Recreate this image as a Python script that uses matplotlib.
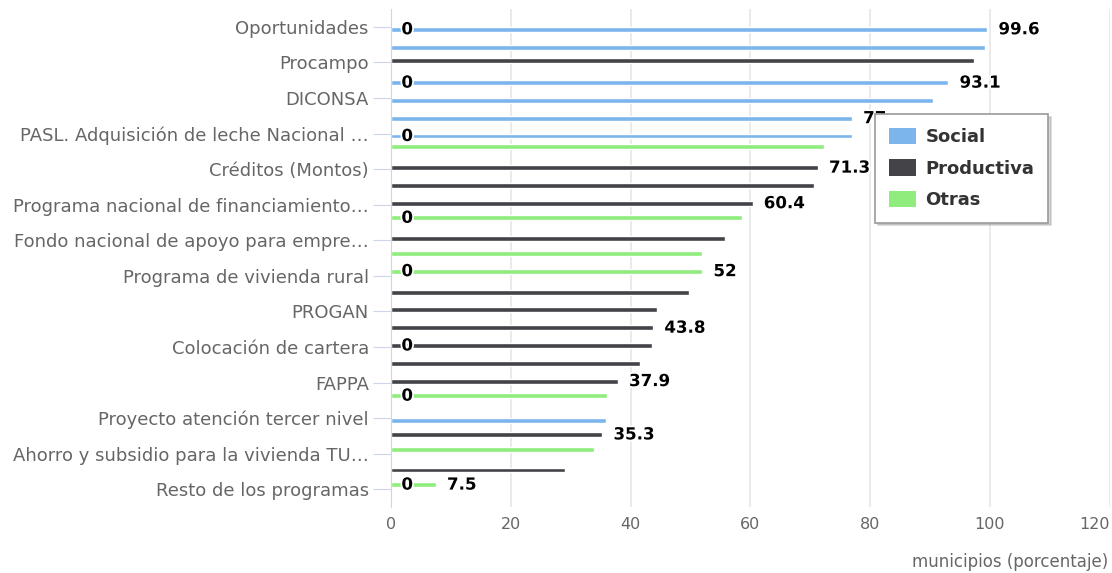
import matplotlib
matplotlib.use('Agg')
import matplotlib.pyplot as plt
import matplotlib.patheffects as pe
from matplotlib.patches import Patch

categories = [
    'Oportunidades', 'Procampo', 'DICONSA',
    'PASL. Adquisición de leche Nacional …', 'Créditos (Montos)',
    'Programa nacional de financiamiento…',
    'Fondo nacional de apoyo para empre…', 'Programa de vivienda rural',
    'PROGAN', 'Colocación de cartera', 'FAPPA',
    'Proyecto atención tercer nivel',
    'Ahorro y subsidio para la vivienda TU…', 'Resto de los programas',
]
series_names = ['Social', 'Productiva', 'Otras']
colors = {'Social': '#7cb5ec', 'Productiva': '#434348', 'Otras': '#90ed7d'}

# points as drawn, one per half-category slot, top to bottom
point_series = ['Social', 'Social', 'Productiva', 'Social', 'Social', 'Social',
                'Social', 'Otras', 'Productiva', 'Productiva', 'Productiva',
                'Otras', 'Productiva', 'Otras', 'Otras', 'Productiva',
                'Productiva', 'Productiva', 'Productiva', 'Productiva',
                'Productiva', 'Otras', 'Social', 'Productiva', 'Otras',
                'Productiva', 'Otras']
point_values = [99.6, 99.2, 97.4, 93.1, 90.6, 77, 77.0, 72.4, 71.3, 70.7, 60.4,
                58.6, 55.7, 52.0, 52, 49.8, 44.4, 43.8, 43.6, 41.6, 37.9, 36.1,
                35.9, 35.3, 33.9, 29.1, 7.5]
labelled_points = [0, 3, 5, 8, 10, 14, 17, 20, 23, 26]
zero_label_points = [0, 3, 6, 11, 14, 18, 21, 26]

series_offset = {'Social': 0.07, 'Productiva': -0.04, 'Otras': -0.13}

plt.rcParams['font.family'] = ['DejaVu Sans']

fig = plt.figure(figsize=(11.12, 5.73), dpi=100)
ax = fig.add_axes([391 / 1112, 66 / 573, 718.5 / 1112, 498 / 573])

ypos = [i * 0.5 + series_offset[s] for i, s in enumerate(point_series)]

for name in series_names:
    ys = [y for y, s in zip(ypos, point_series) if s == name]
    vs = [v for v, s in zip(point_values, point_series) if s == name]
    ax.barh(ys, vs, height=0.14, color=colors[name], edgecolor='white',
            linewidth=1.0, zorder=2)

outline = [pe.withStroke(linewidth=2.5, foreground='white')]
for i in labelled_points:
    ax.annotate(f'{point_values[i]:g}', xy=(point_values[i], ypos[i]),
                xytext=(8, 0), textcoords='offset points', ha='left',
                va='center', fontsize=12, fontweight='bold', color='black',
                path_effects=outline, zorder=4)
for i in zero_label_points:
    ax.annotate('0', xy=(0, ypos[i]), xytext=(7.5, 0),
                textcoords='offset points', ha='left', va='center',
                fontsize=12, fontweight='bold', color='black',
                path_effects=outline, zorder=4)

ax.set_xlim(0, 120)
ax.set_ylim(13.5, -0.5)
ax.set_yticks(range(len(categories)))
ax.set_yticklabels(categories)
ax.set_xticks(range(0, 121, 20))
ax.xaxis.grid(True, color='#e6e6e6', linewidth=1.2)
ax.set_axisbelow(True)
for side in ['top', 'right', 'bottom']:
    ax.spines[side].set_visible(False)
ax.spines['left'].set_color('#ccd6eb')
ax.tick_params(axis='y', length=13, color='#ccd6eb', pad=3, labelsize=13,
               labelcolor='#666666')
ax.tick_params(axis='x', length=0, pad=7, labelsize=11.5,
               labelcolor='#666666')
# last value label kept inside the figure, like the original
ax.get_xticklabels()[-1].set_horizontalalignment('right')

handles = [Patch(facecolor=colors[n], edgecolor='none', label=n)
           for n in series_names]
leg = ax.legend(handles=handles, loc='upper left',
                bbox_to_anchor=(875 / 1112, 1 - 114 / 573),
                bbox_transform=fig.transFigure, borderaxespad=0,
                prop={'size': 13, 'weight': 'bold'}, borderpad=0.75,
                handlelength=1.5, handleheight=1.05, handletextpad=0.55,
                labelspacing=0.72, fancybox=False, framealpha=1,
                edgecolor='#999999', shadow={'color': 'gray', 'alpha': 0.3})
leg.get_frame().set_linewidth(1.2)
for t in leg.get_texts():
    t.set_color('#333333')
leg.set_zorder(10)

fig.text(1108 / 1112, 1 - 562 / 573, 'municipios (porcentaje)', ha='right',
         va='center', color='#666666', fontsize=12)

fig.savefig('out.png', dpi=100)
